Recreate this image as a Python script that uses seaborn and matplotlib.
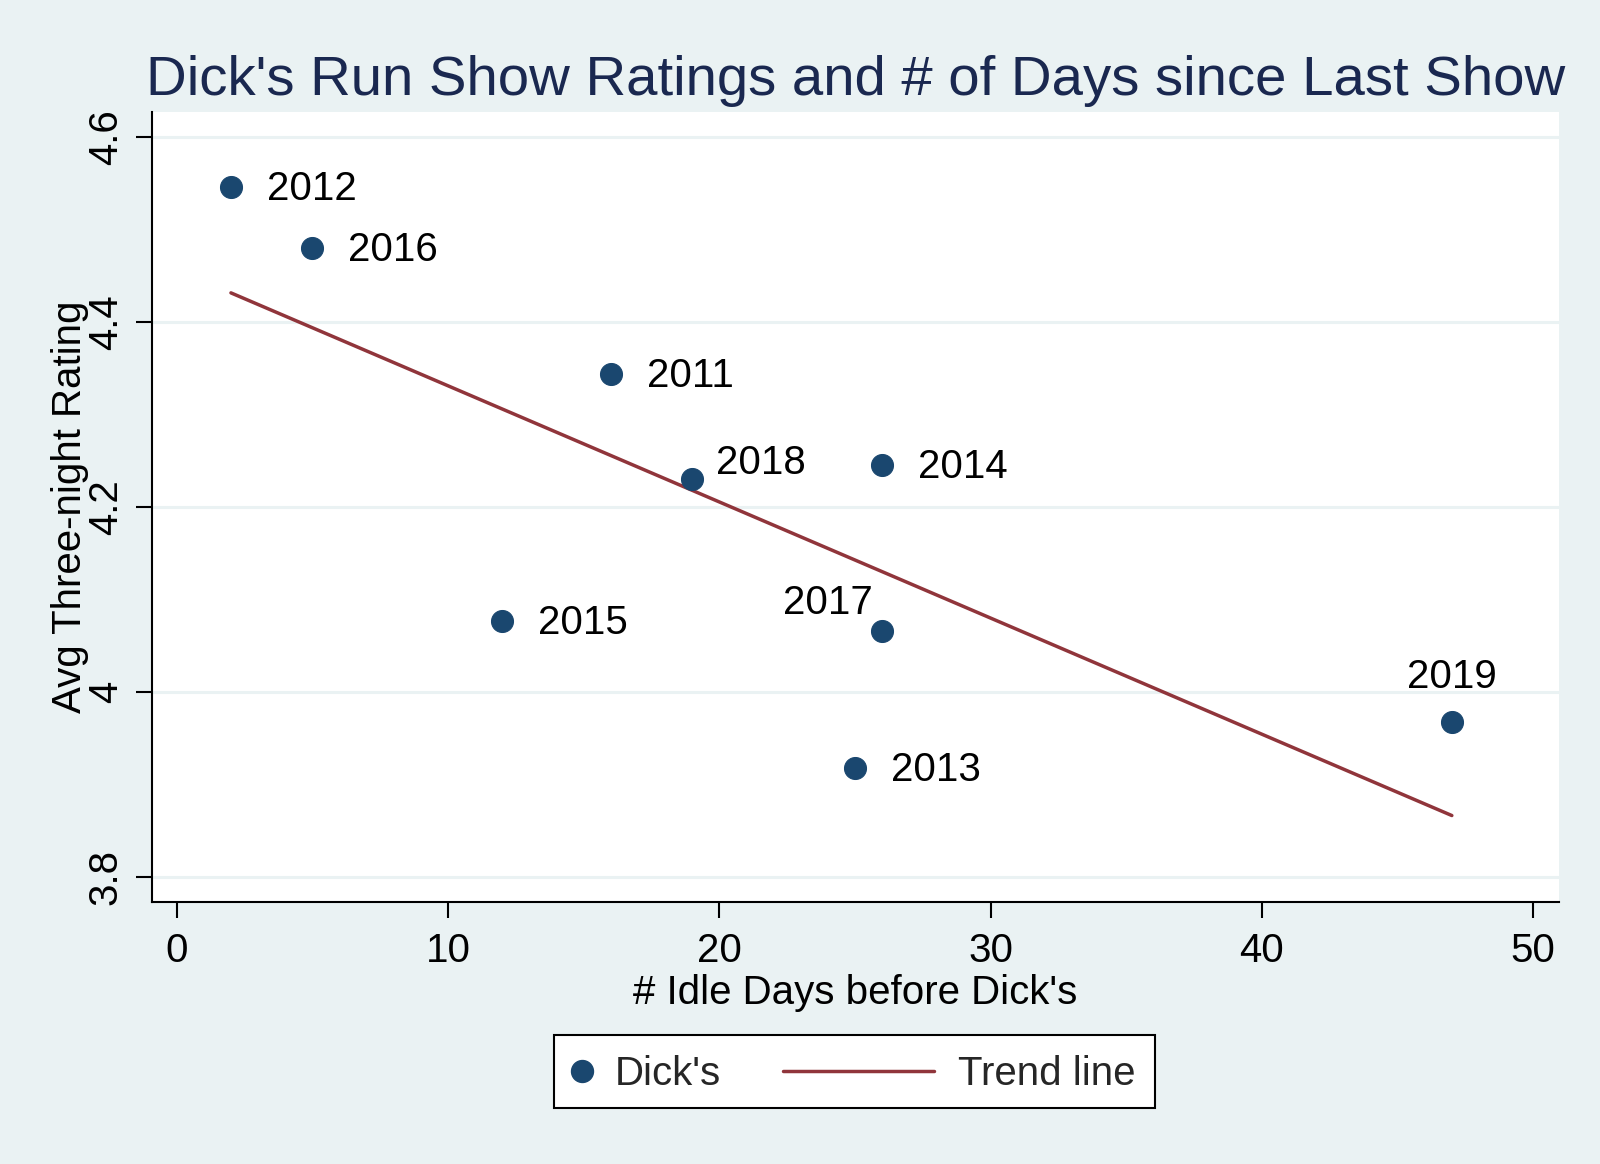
import matplotlib
matplotlib.use("Agg")
import matplotlib.pyplot as plt
import seaborn as sns
import pandas as pd
from matplotlib.lines import Line2D
from matplotlib.patches import Rectangle

# ---- data ----
years = ["2011", "2012", "2013", "2014", "2015", "2016", "2017", "2018", "2019"]
idle_days = [16, 2, 25, 26, 12, 5, 26, 19, 47]
ratings = [4.344, 4.546, 3.918, 4.245, 4.077, 4.480, 4.066, 4.230, 3.967]
x_ticks = [0, 10, 20, 30, 40, 50]
y_ticks = [3.8, 4.0, 4.2, 4.4, 4.6]
y_tick_labels = ["3.8", "4", "4.2", "4.4", "4.6"]

df = pd.DataFrame({"year": years, "days": idle_days, "rating": ratings})

# label placement (clock position style)
label_pos = {"2017": "upper_left", "2018": "upper_right", "2019": "top"}

BG = "#EAF2F3"
NAVY = "#1A476F"
MAROON = "#90353B"
TITLE_C = "#1A2850"
FS = 29

sns.set_theme(style="white")
plt.rcParams["font.family"] = ["Liberation Sans", "DejaVu Sans"]

fig = plt.figure(figsize=(16, 11.64), dpi=100, facecolor=BG)
ax = fig.add_axes([152 / 1600, 262 / 1164, 1407 / 1600, 790 / 1164])
ax.set_facecolor("white")

# gridlines
for yv in y_ticks:
    ax.axhline(yv, color=BG, lw=2.2, zorder=0)

sns.regplot(data=df, x="days", y="rating", ax=ax, scatter=False, ci=None,
            line_kws={"color": MAROON, "lw": 2.5, "zorder": 2})
sns.scatterplot(data=df, x="days", y="rating", ax=ax, s=250, color=NAVY,
                edgecolor=NAVY, linewidth=0.8, zorder=3, legend=False)

for yr, xd, yd in zip(years, idle_days, ratings):
    pos = label_pos.get(yr, "right")
    if pos == "right":
        off, ha, va = (36, -2), "left", "center"
    elif pos == "upper_right":
        off, ha, va = (24, 16), "left", "center"
    elif pos == "upper_left":
        off, ha, va = (-9, 28), "right", "center"
    else:
        off, ha, va = (0, 45), "center", "center"
    ax.annotate(yr, (xd, yd), xytext=off, textcoords="offset pixels",
                ha=ha, va=va, fontsize=FS, color="black", zorder=4)

ax.set_xlim(-0.91, 50.95)
ax.set_ylim(3.773, 4.6267)
ax.set_xticks(x_ticks)
ax.set_xticklabels([str(t) for t in x_ticks])
ax.set_yticks(y_ticks)
ax.set_yticklabels(y_tick_labels, rotation=90, va="center")

for s in ["top", "right"]:
    ax.spines[s].set_visible(False)
for s in ["left", "bottom"]:
    ax.spines[s].set_color("black")
    ax.spines[s].set_linewidth(1.5)

ax.tick_params(axis="both", which="major", direction="out", length=11.5,
               width=1.5, color="black", labelsize=FS, labelcolor="black",
               left=True, bottom=True)
ax.tick_params(axis="x", pad=10)
ax.tick_params(axis="y", pad=8)
ax.grid(False)

ax.set_xlabel("# Idle Days before Dick's", fontsize=FS, color="black")
ax.set_ylabel("Avg Three-night Rating", fontsize=FS, color="black")
ax.xaxis.set_label_coords(0.5, -0.091)
ax.yaxis.set_label_coords(-0.045, 0.5)

fig.text(855.5 / 1600, 1 - 95 / 1164, "Dick's Run Show Ratings and # of Days since Last Show",
         ha="center", va="baseline", fontsize=40.6, color=TITLE_C)

# legend frame
fig.patches.append(Rectangle((554 / 1600, 56 / 1164), 601 / 1600, 73 / 1164,
                             transform=fig.transFigure, facecolor="white",
                             edgecolor="black", lw=1.5, zorder=1))
h1 = Line2D([], [], marker="o", ls="none", color=NAVY, markersize=15.8)
h2 = Line2D([], [], color=MAROON, lw=2.5)
ly = 1 - 1074 / 1164
fig.legend([h1], ["Dick's"], loc="center left", bbox_to_anchor=(561.5 / 1600, ly),
           frameon=False, fontsize=FS, handlelength=1.0, handletextpad=0.33,
           borderpad=0, borderaxespad=0)
fig.legend([h2], ["Trend line"], loc="center left", bbox_to_anchor=(783 / 1600, ly),
           frameon=False, fontsize=FS, handlelength=3.75, handletextpad=0.6,
           borderpad=0, borderaxespad=0)

fig.savefig("out.png", dpi=100, facecolor=BG)
